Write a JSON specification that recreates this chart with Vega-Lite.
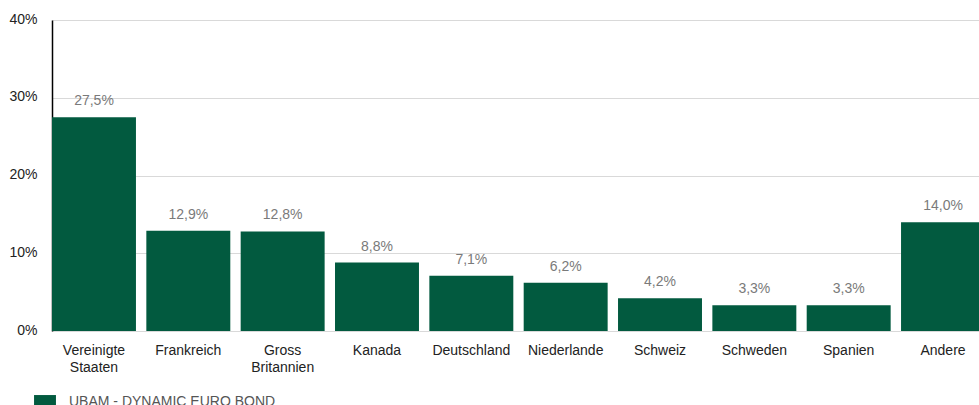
{
  "$schema": "https://vega.github.io/schema/vega-lite/v6.json",
  "autosize": "none",
  "padding": {"left": 52, "top": 20, "right": 0, "bottom": 74},
  "width": 933,
  "height": 311,
  "background": "white",
  "config": {
    "locale": {"number": {"decimal": ",", "thousands": ".", "grouping": [3], "currency": ["", " €"]}},
    "font": "Liberation Sans",
    "view": {"stroke": null}
  },
  "data": {
    "values": [
      {"land": "Vereinigte Staaten", "wert": 0.275, "serie": "UBAM - DYNAMIC EURO BOND"},
      {"land": "Frankreich", "wert": 0.129, "serie": "UBAM - DYNAMIC EURO BOND"},
      {"land": "Gross Britannien", "wert": 0.128, "serie": "UBAM - DYNAMIC EURO BOND"},
      {"land": "Kanada", "wert": 0.088, "serie": "UBAM - DYNAMIC EURO BOND"},
      {"land": "Deutschland", "wert": 0.071, "serie": "UBAM - DYNAMIC EURO BOND"},
      {"land": "Niederlande", "wert": 0.062, "serie": "UBAM - DYNAMIC EURO BOND"},
      {"land": "Schweiz", "wert": 0.042, "serie": "UBAM - DYNAMIC EURO BOND"},
      {"land": "Schweden", "wert": 0.033, "serie": "UBAM - DYNAMIC EURO BOND"},
      {"land": "Spanien", "wert": 0.033, "serie": "UBAM - DYNAMIC EURO BOND"},
      {"land": "Andere", "wert": 0.14, "serie": "UBAM - DYNAMIC EURO BOND"}
    ]
  },
  "encoding": {
    "x": {
      "field": "land", "type": "nominal", "sort": null,
      "scale": {"paddingInner": 0.11, "paddingOuter": 0},
      "axis": {
        "title": null, "labelAngle": 0, "domain": false, "ticks": false,
        "labelExpr": "split(datum.label, ' ')",
        "labelFontSize": 14, "labelColor": "#222", "labelPadding": 12, "labelLineHeight": 17
      }
    },
    "y": {
      "field": "wert", "type": "quantitative",
      "scale": {"domain": [0, 0.4], "nice": false},
      "axis": {
        "title": null, "format": ".0%", "values": [0, 0.1, 0.2, 0.3, 0.4],
        "domain": true, "domainColor": "#000", "domainWidth": 1.5,
        "ticks": false, "gridColor": "#d9d9d9", "gridWidth": 1,
        "labelFontSize": 14, "labelColor": "#222", "labelPadding": 15, "labelOffset": -1
      }
    }
  },
  "layer": [
    {
      "mark": {"type": "bar", "color": "#025a3f"},
      "encoding": {
        "color": {
          "field": "serie", "type": "nominal",
          "scale": {"range": ["#025a3f"]},
          "legend": {
            "title": null, "orient": "none", "legendX": -19, "legendY": 374,
            "symbolType": "square", "symbolSize": 480, "symbolOpacity": 1,
            "labelFontSize": 14, "labelColor": "#555", "labelOffset": 12, "labelLimit": 0,
            "labelBaseline": "alphabetic"
          }
        }
      }
    },
    {
      "mark": {"type": "text", "dy": -16, "fontSize": 14, "color": "#7a7a7a"},
      "encoding": {
        "text": {"field": "wert", "type": "quantitative", "format": ".1%"}
      }
    }
  ]
}
